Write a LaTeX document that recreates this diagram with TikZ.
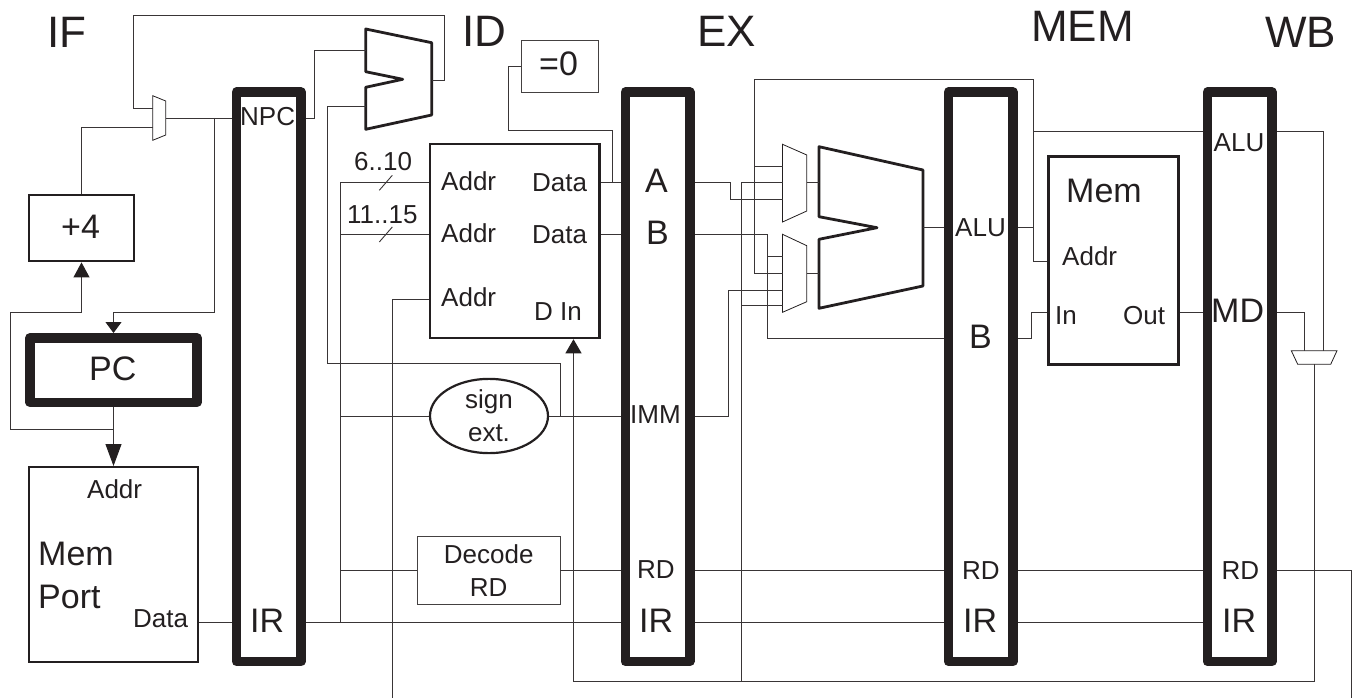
\documentclass[tikz,border=0pt]{standalone}
\usepackage{fontspec}
\setmainfont{Liberation Sans}
\usetikzlibrary{arrows.meta,shapes.geometric}
\definecolor{ink}{HTML}{231F20}
\tikzset{
    wire/.style={line width=0.9pt, color=ink!90},
    regbar/.style={rectangle, draw=ink, line width=9.5pt, line join=round, minimum width=64.5pt, minimum height=569.5pt, inner sep=0pt},
    blockbox/.style={rectangle, draw=ink, line width=2.5pt, inner sep=0pt},
    thinbox/.style={rectangle, draw=ink!85, line width=0.9pt, inner sep=0pt},
    alushape/.style={draw=ink, line width=2.8pt, line join=round},
    muxshape/.style={draw=ink, line width=0.8pt},
    lbl/.style={inner sep=0pt, anchor=base west, text=ink, font=\fontsize{26}{26}\selectfont},
    biglbl/.style={lbl, font=\fontsize{34}{34}\selectfont},
    stagelbl/.style={lbl, font=\fontsize{44}{44}\selectfont},
    tip/.style={-{Triangle[length=#1, width=16pt, color=ink, fill=ink]}}
}
\begin{document}
\begin{tikzpicture}[x=1pt, y=-1pt]
    \useasboundingbox (0,0) rectangle (1352,698);

    % pipeline registers
    \node[regbar] (ifid) at (268.85,376.75) {};
    \node[regbar, right of=ifid, node distance=388.65pt] (idex) {};
    \node[regbar, right of=idex, node distance=323.25pt] (exmem) {};
    \node[regbar, right of=exmem, node distance=259pt] (memwb) {};

    % blocks
    \node[blockbox, line width=2.8pt, minimum width=105pt, minimum height=66pt] (plusfour) at (81.5,228) {};
    \node[rectangle, draw=ink, line width=9.5pt, line join=round, inner sep=0pt, minimum width=167pt, minimum height=64.5pt] (pc) at (113.5,370) {};
    \node[blockbox, line width=2pt, minimum width=169pt, minimum height=195pt] (memport) at (113.5,564.5) {};
    \node[blockbox, minimum width=169.6pt, minimum height=194pt] (regfile) at (514.8,241) {};
    \node[blockbox, minimum width=130.4pt, minimum height=208pt] (datamem) at (1113.5,260.7) {};
    \node[thinbox, minimum width=77.6pt, minimum height=51.7pt] (zerotest) at (559.8,66.2) {};
    \node[thinbox, minimum width=142.6pt, minimum height=68.3pt, align=center, text=ink, font=\fontsize{26}{33.7}\selectfont] (decode) at (488.7,570.5) {Decode\\RD};
    \node[ellipse, draw=ink, line width=2.2pt, inner sep=0pt, minimum width=118pt, minimum height=73pt, align=center, text=ink, font=\fontsize{26}{33.4}\selectfont] (signext) at (489,416) {sign\\ext.};

    % adders and muxes
    \draw[alushape] (365.7,29) -- (431.7,42.7) -- (431.7,115) -- (365.7,129.3) -- (365.7,87.3) -- (402.7,79.3) -- (365.7,71.7) -- cycle;
    \draw[alushape] (819,146.7) -- (922.9,170) -- (922.9,286) -- (819,308.3) -- (819,239.3) -- (877,227.7) -- (819,216.7) -- cycle;
    \draw[muxshape, fill=white] (152.7,95.7) -- (165.7,101) -- (165.7,135) -- (152.7,140.3) -- cycle;
    \draw[muxshape] (782.5,144.3) -- (806.8,155) -- (806.8,211) -- (782.5,222) -- cycle;
    \draw[muxshape] (782.5,234.3) -- (806.8,245.7) -- (806.8,301.7) -- (782.5,312.3) -- cycle;
    \draw[muxshape] (1291.3,350.7) -- (1337,350.7) -- (1330.7,364.3) -- (1297.7,364.3) -- cycle;

    % levels shared by several wires
    \coordinate (ynpc) at (0,118);
    \coordinate (ya) at (0,182.7);
    \coordinate (yb) at (0,234);
    \coordinate (yaddr) at (0,299);
    \coordinate (yalu) at (0,227.7);
    \coordinate (yexb) at (0,338);
    \coordinate (ywbalu) at (0,131);
    \coordinate (ymd) at (0,312.3);
    \coordinate (yimm) at (0,416);
    \coordinate (yrd) at (0,570.5);
    \coordinate (yir) at (0,622.7);

    % ports of adders and muxes
    \coordinate (addnpc) at (365.7,50);
    \coordinate (addimm) at (365.7,106.7);
    \coordinate (addout) at (431.7,80);
    \coordinate (pcmuxa) at (152.7,108);
    \coordinate (pcmuxb) at (152.7,127.5);
    \coordinate (pcmuxout) at (165.7,118);
    \coordinate (aluout) at (922.9,227.7);
    \coordinate (aluina) at (819,182.7);
    \coordinate (aluinb) at (819,273.3);
    \coordinate (muxaout) at (806.8,182.7);
    \coordinate (muxbout) at (806.8,273.3);
    \coordinate (muxa1) at (782.5,166);
    \coordinate (muxa2) at (782.5,182.7);
    \coordinate (muxa3) at (782.5,199.3);
    \coordinate (muxb1) at (782.5,256.7);
    \coordinate (muxb2) at (782.5,273.3);
    \coordinate (muxb3) at (782.5,290);
    \coordinate (muxb4) at (782.5,305.7);
    \coordinate (wbmuxa) at (1304.7,350.7);
    \coordinate (wbmuxb) at (1323.7,350.7);
    \coordinate (wbmuxout) at (1314,364.3);

    % IF stage
    \draw[wire] (ifid.west |- ynpc) -- (pcmuxout);
    \draw[wire] (pcmuxa) -- (133,108) -- (133,15) -- (444,15) -- (444,80) -- (addout);
    \draw[wire] (pcmuxb) -| (plusfour.north);
    \draw[wire, tip=11pt] (214,118) -- (214,312) -| (pc.north);
    \draw[wire, tip=15pt] (113.5,429) -- (10,429) -- (10,312) -| (plusfour.south);
    \draw[wire, tip=22pt] (pc.south) -- (memport.north);
    \draw[wire] (memport.east |- yir) -- (ifid.west |- yir);

    % ID stage
    \draw[wire] (ifid.east |- ynpc) -- (314,118) -- (314,50) -- (addnpc);
    \draw[wire] (addimm) -- (327,106.7) -- (327,363) -- (560,363) -- (560,416);
    \draw[wire] (ifid.east |- yir) -- (idex.west |- yir);
    \draw[wire] (340.5,622.7) -- (340.5,182.7) -- (regfile.west |- ya);
    \draw[wire] (340.5,234) -- (regfile.west |- yb);
    \draw[wire] (379.3,190.3) -- (392.3,175.3);
    \draw[wire] (379.3,242) -- (392.3,227);
    \draw[wire] (392,698) -- (392,299) -- (regfile.west |- yaddr);
    \draw[wire] (340.5,416) -- (signext.west);
    \draw[wire] (signext.east) -- (idex.west |- yimm);
    \draw[wire] (340.5,570.5) -- (decode.west);
    \draw[wire] (decode.east) -- (idex.west |- yrd);
    \draw[wire] (regfile.east |- ya) -- (idex.west |- ya);
    \draw[wire] (regfile.east |- yb) -- (idex.west |- yb);
    \draw[wire] (612,182.7) -- (612,130.7) -- (508.6,130.7) -- (508.6,66.2) -- (zerotest.west);

    % EX stage
    \draw[wire] (idex.east |- ya) -- (730,182.7) -- (730,199.3) -- (muxa3);
    \draw[wire] (idex.east |- yb) -- (767,234) -- (767,338) -- (exmem.west |- yexb);
    \draw[wire] (767,256.7) -- (muxb1);
    \draw[wire] (idex.east |- yimm) -- (728.6,416) -- (728.6,290) -- (muxb3);
    \draw[wire] (muxb2) -- (754,273.3) -- (754,79.3) -- (1033,79.3) -- (1033,261) -- (datamem.west |- 0,261);
    \draw[wire] (754,166) -- (muxa1);
    \draw[wire] (muxa2) -- (741.4,182.7) -- (741.4,681);
    \draw[wire] (741.4,305.7) -- (muxb4);
    \draw[wire] (muxaout) -- (aluina);
    \draw[wire] (muxbout) -- (aluinb);
    \draw[wire] (aluout) -- (exmem.west |- yalu);
    \draw[wire] (idex.east |- yrd) -- (exmem.west |- yrd);
    \draw[wire] (idex.east |- yir) -- (exmem.west |- yir);

    % MEM stage
    \draw[wire] (exmem.east |- yalu) -- (1033,227.7);
    \draw[wire] (1033,131) -- (memwb.west |- ywbalu);
    \draw[wire] (exmem.east |- yexb) -- (1031.3,338) -- (1031.3,312.3) -- (datamem.west |- ymd);
    \draw[wire] (datamem.east |- ymd) -- (memwb.west |- ymd);
    \draw[wire] (exmem.east |- yrd) -- (memwb.west |- yrd);
    \draw[wire] (exmem.east |- yir) -- (memwb.west |- yir);

    % WB stage
    \draw[wire] (memwb.east |- ymd) -- (1304.7,312.3) -- (wbmuxa);
    \draw[wire] (memwb.east |- ywbalu) -- (1323.7,131) -- (wbmuxb);
    \draw[wire, tip=14pt] (wbmuxout) -- (1314,681) -- (573.5,681) -- (regfile.south -| 573.5,0);
    \draw[wire] (memwb.east |- yrd) -- (1351,570.5) -- (1351,698);

    % stage titles
    \node[stagelbl] (ifname) at (47,48) {IF};
    \node[stagelbl] (idname) at (462,47) {ID};
    \node[stagelbl] (exname) at (697,47) {EX};
    \node[stagelbl] (memname) at (1031,42) {MEM};
    \node[stagelbl] (wbname) at (1265,48) {WB};

    % labels in the registers
    \node[lbl] (npcname) at (240,126) {NPC};
    \node[biglbl] (irname1) at (250,632) {IR};
    \node[biglbl] (aname) at (645,193) {A};
    \node[biglbl] (bname1) at (646,244) {B};
    \node[lbl] (immname) at (630,423.5) {IMM};
    \node[lbl] (rdname1) at (637,578) {RD};
    \node[biglbl] (irname2) at (639,632) {IR};
    \node[lbl] (aluname1) at (955,236) {ALU};
    \node[biglbl] (bname2) at (969,348.5) {B};
    \node[lbl] (rdname2) at (962,579) {RD};
    \node[biglbl] (irname3) at (963,632) {IR};
    \node[lbl] (aluname2) at (1213.5,152) {ALU};
    \node[biglbl] (mdname) at (1211,322.7) {MD};
    \node[lbl] (rdname3) at (1221.5,579) {RD};
    \node[biglbl] (irname4) at (1222,632) {IR};

    % labels in the blocks
    \node[biglbl] (plusname) at (61,238) {+4};
    \node[biglbl] (pcname) at (89,380.7) {PC};
    \node[lbl] (memaddr) at (87,498) {Addr};
    \node[biglbl] (memname1) at (38,565) {Mem};
    \node[biglbl] (portname) at (38,608) {Port};
    \node[lbl] (memdata) at (133,627) {Data};
    \node[lbl] (bits1) at (354,170.7) {6..10};
    \node[lbl] (bits2) at (347,223) {11..15};
    \node[lbl] (addr1) at (441,190.7) {Addr};
    \node[lbl] (addr2) at (441,242.7) {Addr};
    \node[lbl] (addr3) at (441,306.7) {Addr};
    \node[lbl] (data1) at (532,191) {Data};
    \node[lbl] (data2) at (532,243) {Data};
    \node[lbl] (dinname) at (534,320.7) {D In};
    \node[biglbl] (zeroname) at (539,76) {=0};
    \node[biglbl] (memname2) at (1066,202.7) {Mem};
    \node[lbl] (addr4) at (1062,265.7) {Addr};
    \node[lbl] (inname) at (1055,324) {In};
    \node[lbl] (outname) at (1123,324) {Out};
\end{tikzpicture}
\end{document}
